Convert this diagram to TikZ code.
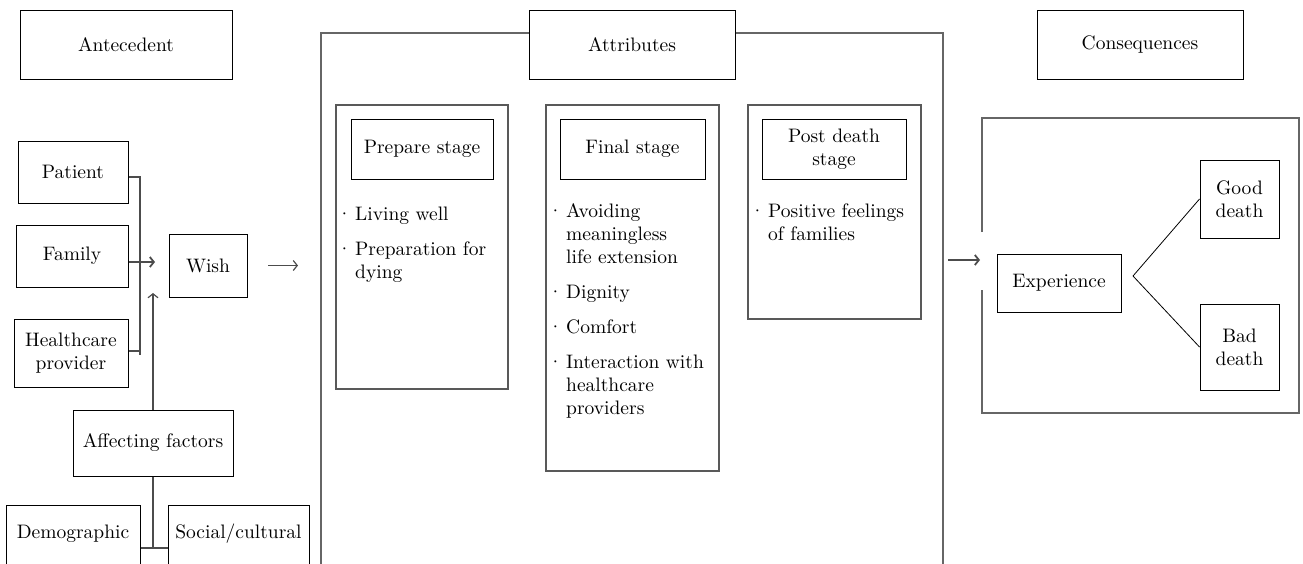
\documentclass[tikz,border=0pt]{standalone}
\usepackage{fontspec}
\setmainfont{lmroman10-regular.otf}[ItalicFont=lmroman10-italic.otf, BoldFont=lmroman10-bold.otf]
\usetikzlibrary{arrows.meta,calc}
\newcommand\bulitem{\leavevmode\llap{·\,}}
\begin{document}
\begin{tikzpicture}[x=1pt,y=-1pt,
  every node/.style={font=\fontsize{19.5}{23}\selectfont},
  bx/.style={draw=black, line width=1pt, inner sep=0pt, align=center},
  stg/.style={draw=black!65, line width=1.2pt, inner sep=0pt},
  frm/.style={draw=black!60, line width=1.4pt},
  lnk/.style={draw=black!70, line width=1.2pt},
  arr/.style={lnk, -{Straight Barb[length=4pt,width=10pt]}},
  thin/.style={draw=black, line width=0.8pt},
  lst/.style={anchor=base west, inner sep=0pt}
]
\useasboundingbox (0,0) rectangle (1303,563);
\clip (0,0) rectangle (1303,563);

% top row
\node[bx, minimum width=212pt, minimum height=69pt] (ante) at (126,44.5) {Antecedent};
\node[bx, minimum width=206pt, minimum height=69pt] (attr) at (632,44.5) {Attributes};
\node[bx, minimum width=206pt, minimum height=69pt] (cons) at (1140,44.5) {Consequences};

% antecedent side
\node[bx, minimum width=110pt, minimum height=62pt] (patient) at (73,172) {Patient};
\node[bx, minimum width=112pt, minimum height=62pt] (family) at (72,256) {Family};
\node[bx, minimum width=114pt, minimum height=68pt] (health) at (71,353) {Healthcare\\provider};
\node[bx, minimum width=78pt, minimum height=63pt] (wish) at (208,265.5) {Wish};
\node[bx, minimum width=160pt, minimum height=66pt] (affect) at (153,443) {Affecting factors};
\node[bx, anchor=base, text height=13pt, text depth=60pt, inner ysep=20pt, minimum width=134pt] (demo) at (73,538) {Demographic};
\node[bx, anchor=base, text height=13pt, text depth=60pt, inner ysep=20pt, minimum width=141pt] (social) at (238.5,538) {Social/cultural};

\coordinate (bt) at (140,177);
\coordinate (bb) at (140,355);
\coordinate (bh) at (140,351);
\coordinate (fa) at (155,262);
\coordinate (ua) at (153,293);
\coordinate (wo1) at (268,265.5);
\coordinate (wo2) at (298,265.5);
\coordinate (dj) at (153,548);

\draw[lnk] (patient.east |- bt) -- (bt) -- (bb);
\draw[lnk] (health.east |- bh) -- (bh);
\draw[arr, line width=1.8pt] (family.east |- fa) -- (fa);
\draw[arr] (affect.north) -- (ua);
\draw[arr] (wo1) -- (wo2);
\draw[lnk] (affect.south) -- (dj);
\draw[lnk] (demo.east |- dj) -- (social.west |- dj);

% attributes frame
\coordinate (fl) at (321,33);
\coordinate (fr) at (943,33);
\draw[frm] (321,600) -- (fl) -- (fl -| attr.west);
\draw[frm] (fr -| attr.east) -- (fr) -- (943,600);

% stages
\node[stg, minimum width=172pt, minimum height=284pt] (prepo) at (422,247) {};
\node[stg, minimum width=173pt, minimum height=366pt] (finalo) at (632.5,288) {};
\node[stg, minimum width=173pt, minimum height=214pt] (posto) at (834.5,212) {};

\node[bx, minimum width=142pt, minimum height=60pt] (prept) at (422,149) {Prepare stage};
\node[bx, minimum width=145pt, minimum height=60pt] (finalt) at (632.5,149) {Final stage};
\node[bx, minimum width=144pt, minimum height=60pt] (postt) at (834,149) {Post death\\stage};

\node[lst] (prepl) at (355,220) {\parbox[t]{150pt}{\raggedright
\bulitem Living well\\[12pt]
\bulitem Preparation for\\
dying}};
\node[lst] (finall) at (566,217) {\parbox[t]{150pt}{\raggedright
\bulitem Avoiding\\
meaningless\\
life extension\\[12pt]
\bulitem Dignity\\[12pt]
\bulitem Comfort\\[12pt]
\bulitem Interaction with\\
healthcare\\
providers}};
\node[lst] (postl) at (768,217) {\parbox[t]{150pt}{\raggedright
\bulitem Positive feelings\\
of families}};

% consequences
\coordinate (ca1) at (948,260);
\coordinate (ca2) at (980,260);
\draw[arr, line width=1.8pt] (ca1) -- (ca2);
\draw[frm] (982,232) -- (982,118) -- (1299,118) -- (1299,413) -- (982,413) -- (982,290);

\node[bx, minimum width=124pt, minimum height=58pt] (exp) at (1059,283) {Experience};
\node[bx, minimum width=79pt, minimum height=78pt] (good) at (1239.5,199) {Good\\death};
\node[bx, minimum width=79pt, minimum height=86pt] (bad) at (1239.5,347) {Bad\\death};
\coordinate (ej) at (1133,276);
\draw[thin] (ej) -- (good.west);
\draw[thin] (ej) -- (bad.west);
\end{tikzpicture}
\end{document}
